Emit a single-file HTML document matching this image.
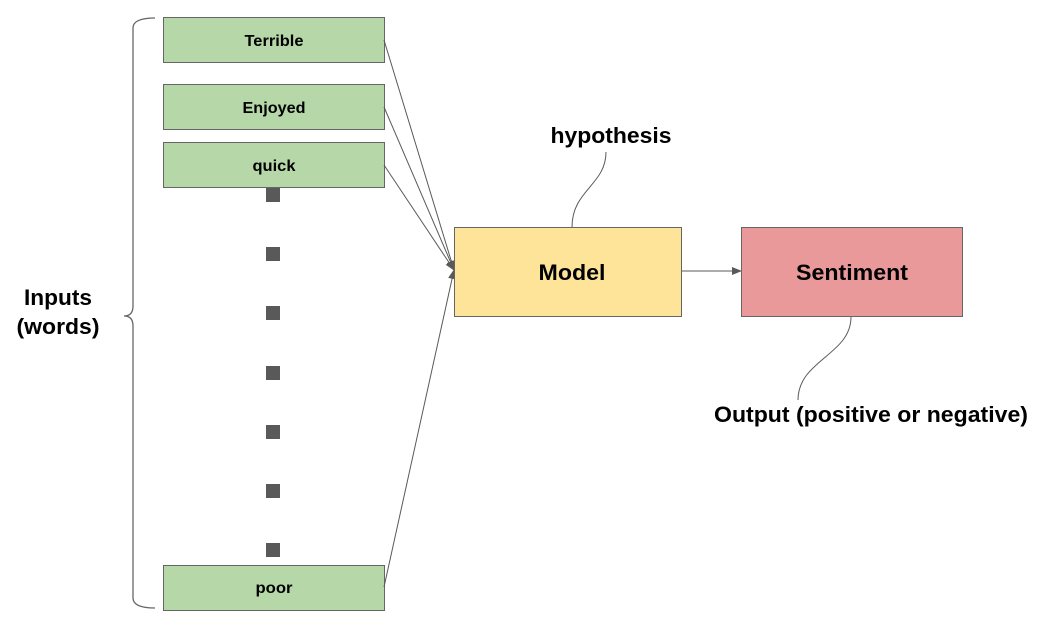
<!DOCTYPE html>
<html><head><style>
body{margin:0;background:#fff;}
svg{display:block;font-family:"Liberation Sans",Arial,sans-serif;font-weight:bold;}
</style></head><body>
<svg width="1037" height="630" viewBox="0 0 1037 630">
<defs><marker id="a" markerWidth="10" markerHeight="10" refX="9" refY="5" orient="auto" markerUnits="userSpaceOnUse"><path d="M0,1 L10,5 L0,9 z" fill="#595959"/></marker></defs>
<g fill="#b6d7a8" stroke="#666" stroke-width="1">
<rect x="163.5" y="17.5" width="221" height="45"/>
<rect x="163.5" y="84.5" width="221" height="45"/>
<rect x="163.5" y="142.5" width="221" height="45"/>
<rect x="163.5" y="565.5" width="221" height="45"/>
</g>
<g font-size="16" text-anchor="middle" fill="#000">
<text x="274" y="46" textLength="59" lengthAdjust="spacingAndGlyphs">Terrible</text>
<text x="274" y="113" textLength="63" lengthAdjust="spacingAndGlyphs">Enjoyed</text>
<text x="274" y="171" textLength="43" lengthAdjust="spacingAndGlyphs">quick</text>
<text x="274" y="593" textLength="37" lengthAdjust="spacingAndGlyphs">poor</text>
</g>
<g fill="#595959">
<rect x="266" y="188" width="14" height="14"/>
<rect x="266" y="247" width="14" height="14"/>
<rect x="266" y="306" width="14" height="14"/>
<rect x="266" y="366" width="14" height="14"/>
<rect x="266" y="425" width="14" height="14"/>
<rect x="266" y="484" width="14" height="14"/>
<rect x="266" y="543" width="14" height="14"/>
</g>
<path d="M155,18 Q133,18 133,28 L133,306 Q133,316 124,316 Q133,316 133,326 L133,598 Q133,608 155,608" fill="none" stroke="#666" stroke-width="1.3"/>
<text x="58" y="305" font-size="22" text-anchor="middle" textLength="68" lengthAdjust="spacingAndGlyphs">Inputs</text>
<text x="58" y="334" font-size="22" text-anchor="middle" textLength="83" lengthAdjust="spacingAndGlyphs">(words)</text>
<g stroke="#595959" stroke-width="1" fill="none" marker-end="url(#a)">
<line x1="384" y1="40" x2="454" y2="270"/>
<line x1="384" y1="107" x2="454" y2="270"/>
<line x1="384" y1="165" x2="454" y2="270"/>
<line x1="384" y1="587" x2="454" y2="270"/>
<line x1="681" y1="271" x2="741" y2="271"/>
</g>
<rect x="454.5" y="227.5" width="227" height="89" fill="#fde499" stroke="#666"/>
<rect x="741.5" y="227.5" width="221" height="89" fill="#e99999" stroke="#666"/>
<text x="572" y="280" font-size="22" text-anchor="middle" textLength="67" lengthAdjust="spacingAndGlyphs">Model</text>
<text x="852" y="280" font-size="22" text-anchor="middle" textLength="112" lengthAdjust="spacingAndGlyphs">Sentiment</text>
<path d="M572,227 C572,190 606,185 606,152" fill="none" stroke="#595959" stroke-width="1"/>
<path d="M851,317 C851,355 798,360 798,400" fill="none" stroke="#595959" stroke-width="1"/>
<text x="611" y="143" font-size="22" text-anchor="middle" textLength="121" lengthAdjust="spacingAndGlyphs">hypothesis</text>
<text x="871" y="422" font-size="22" text-anchor="middle" textLength="314" lengthAdjust="spacingAndGlyphs">Output (positive or negative)</text>
</svg>
</body></html>
